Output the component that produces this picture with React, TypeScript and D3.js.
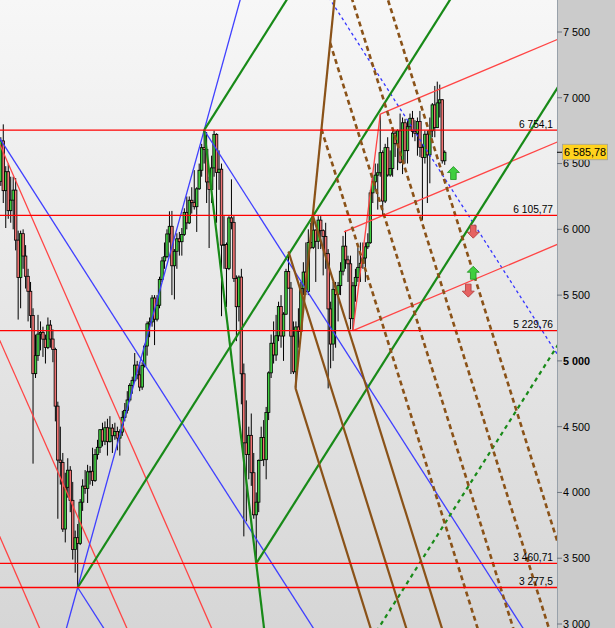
import React from 'react';
import * as d3 from 'd3';

const WIDTH = 615;
const HEIGHT = 628;
const PLOT_RIGHT = 557;

// Monthly candles, Aug 2000 (index 0) .. Jul 2015 (index 179)
const firstOpen = 6365;
const closes = [
  6672, 6294, 6438, 6142, 6222,
  6298, 5918, 5634, 5967, 5797, 5643, 5529, 5345, 4903, 5040, 5204, 5217,
  5165, 5102, 5272, 5166, 5086, 4656, 4246, 4227, 3722, 4039, 4169, 3940,
  3567, 3656, 3613, 3926, 4048, 4031, 4157, 4161, 4091, 4288, 4343, 4477,
  4390, 4492, 4386, 4489, 4431, 4464, 4413, 4459, 4571, 4624, 4703, 4814,
  4852, 4968, 4894, 4801, 4964, 5113, 5282, 5296, 5478, 5317, 5423, 5619,
  5760, 5792, 5965, 6023, 5723, 5833, 5928, 5906, 5961, 6129, 6049, 6221,
  6203, 6172, 6308, 6449, 6621, 6608, 6360, 6303, 6467, 6722, 6433, 6457,
  5880, 5884, 5702, 6087, 6053, 5626, 5412, 5637, 4902, 4377, 4288, 4434,
  4150, 3830, 3926, 4244, 4418, 4249, 4608, 4909, 5134, 5045, 5191, 5413,
  5189, 5355, 5680, 5553, 5188, 4917, 5258, 5225, 5549, 5675, 5528, 5900,
  5863, 5994, 5909, 6070, 5990, 5946, 5815, 5395, 5128, 5544, 5505, 5572,
  5682, 5872, 5768, 5738, 5321, 5571, 5635, 5711, 5742, 5782, 5867, 5898,
  6277, 6361, 6412, 6430, 6583, 6215, 6621, 6413, 6462, 6731, 6651, 6749,
  6510, 6810, 6598, 6780, 6844, 6744, 6730, 6820, 6623, 6546, 6723, 6566,
  6749, 6946, 6773, 6961, 6985, 6521, 6585.78,
];
const highs = [
  6700, 6798, 6480, 6500, 6400,
  6400, 6390, 5990, 5990, 6000, 5880, 5700, 5600, 5400, 5200, 5350, 5300,
  5260, 5200, 5330, 5310, 5240, 5100, 4690, 4500, 4300, 4150, 4260, 4200,
  4080, 3710, 3760, 3950, 4100, 4170, 4210, 4200, 4340, 4330, 4400, 4480,
  4530, 4540, 4560, 4580, 4520, 4530, 4500, 4480, 4620, 4680, 4770, 4830,
  4880, 5060, 5000, 4990, 4990, 5130, 5300, 5330, 5500, 5500, 5500, 5640,
  5790, 5900, 6000, 6137, 6140, 5850, 5970, 5980, 6010, 6160, 6250, 6250,
  6320, 6450, 6320, 6500, 6650, 6754.1, 6740, 6400, 6560, 6750, 6730, 6600,
  6500, 6100, 5900, 6100, 6380, 6100, 5650, 5650, 5700, 4980, 4700, 4500,
  4600, 4300, 4000, 4250, 4500, 4550, 4650, 4920, 5200, 5300, 5350, 5450,
  5500, 5370, 5700, 5830, 5600, 5300, 5300, 5400, 5600, 5750, 5900, 6000,
  6050, 6105.77, 6000, 6100, 6100, 6000, 6050, 5850, 5450, 5600, 5600, 5600,
  5750, 5950, 5990, 5800, 5800, 5600, 5700, 5860, 5900, 5900, 5900, 5970,
  6300, 6400, 6500, 6500, 6875, 6600, 6650, 6700, 6600, 6750, 6750, 6760,
  6880, 6850, 6840, 6830, 6880, 6900, 6830, 6850, 6900, 6650, 6750, 6750,
  6850, 6960, 7090, 7122.74, 7100, 6990, 6600,
];
const lows = [
  6330, 6200, 6010, 6080, 6050,
  6000, 5840, 5314, 5400, 5700, 5550, 5300, 5250, 4219, 4870, 5000, 5080,
  5030, 4980, 5090, 5100, 4990, 4540, 3800, 4060, 3700, 3620, 3960, 3850,
  3490, 3390, 3277.5, 3600, 3860, 3990, 3920, 4060, 4050, 4080, 4250, 4300,
  4350, 4360, 4280, 4380, 4300, 4400, 4320, 4280, 4430, 4540, 4600, 4690,
  4750, 4840, 4860, 4770, 4780, 4950, 5040, 5180, 5260, 5120, 5300, 5400,
  5600, 5700, 5780, 5900, 5500, 5467, 5700, 5800, 5800, 5950, 6000, 6040,
  6120, 6150, 5980, 6300, 6400, 6500, 6200, 5858, 6200, 6400, 6050, 6300,
  5340, 5700, 5410, 5690, 6000, 5600, 5150, 5300, 4670, 3666, 3780, 4100,
  4050, 3800, 3460.71, 3850, 4240, 4200, 4100, 4550, 4870, 4980, 5000, 5150,
  5100, 5000, 5350, 5550, 4900, 4900, 4795, 5100, 5200, 5500, 5500, 5500,
  5850, 5850, 5600, 5850, 5850, 5650, 5700, 4791, 4944, 5000, 5100, 5300,
  5500, 5650, 5700, 5600, 5240, 5229.76, 5450, 5600, 5600, 5700, 5600, 5850,
  5890, 6200, 6300, 6150, 6400, 6100, 6200, 6400, 6400, 6400, 6550, 6450,
  6500, 6420, 6500, 6500, 6750, 6700, 6670, 6560, 6550, 6070, 6500, 6200,
  6350, 6700, 6700, 6770, 6850, 6500, 6490,
];

// Horizontal levels
const levelValues = [6754.1, 6105.77, 5229.76, 3460.71, 3277.5];
const levelLabels = ['6 754,1', '6 105,77', '5 229,76', '3 460,71', '3 277,5'];

// Price axis
const axisTicks = [3000, 3500, 4000, 4500, 5000, 5500, 6000, 6500, 7000, 7500];
const axisLabels = ['3 000', '3 500', '4 000', '4 500', '5 000', '5 500', '6 000', '6 500', '7 000', '7 500'];
const boldTick = 5000;
const lastPrice = 6585.78;
const lastPriceLabel = '6 585,78';

// Andrews pitchforks: anchor points [month index, price]
type Pt = [number, number];
const blueFork: Pt[] = [[-8, 6915], [31, 3277.5], [82, 6754.1]];
const greenFork: Pt[] = [[31, 3277.5], [82, 6754.1], [103, 3460.71]];
const brownFork: Pt[] = [[116, 5830], [118.8, 4795], [125.8, 6105.77]];
const redFork: Pt[] = [[138.4, 5980], [142, 5229.76], [153, 6875]];
const blueWarnings = [1];
const greenWarnings = [1];
const brownWarnings = [1, 2, 3, 4];

// Parallel red lines on the left: two points each [index, price]
const redParallels: Pt[][] = [
  [[-0.32, 6641], [58.83, 4095]],
  [[-0.32, 5151], [44.03, 3259]],
  [[-0.32, 3661], [8.95, 3259]],
];

// Signal arrows
const signalIndex = [182.5, 190.5, 190.5, 188.5];
const signalPrice = [6428, 5982, 5670, 5534];
const signalDir = ['up', 'down', 'up', 'down'];

const xScale = d3.scaleLinear().domain([0, 179]).range([0.8, 0.8 + 2.48 * 179]);
const yScale = d3.scaleLinear().domain([3000, 7500]).range([624, 32]);

type P = { x: number; y: number };
const px = (p: Pt): P => ({ x: xScale(p[0]), y: yScale(p[1]) });
const norm = (v: P): P => {
  const l = Math.hypot(v.x, v.y);
  return { x: v.x / l, y: v.y / l };
};
const far = 3000;
const ray = (s: P, d: P) => `M${s.x},${s.y}L${s.x + d.x * far},${s.y + d.y * far}`;
const seg = (a: P, b: P) => `M${a.x},${a.y}L${b.x},${b.y}`;

function forkPaths(anchors: Pt[], warnings: number[], extendPastP2: boolean, extendPastP1: boolean) {
  const [p0, p1, p2] = anchors.map(px);
  const m = { x: (p1.x + p2.x) / 2, y: (p1.y + p2.y) / 2 };
  const d = norm({ x: m.x - p0.x, y: m.y - p0.y });
  const h = norm({ x: p2.x - p1.x, y: p2.y - p1.y });
  const solid: string[] = [ray(p0, d), ray(p1, d), ray(p2, d), seg(p1, p2)];
  if (extendPastP2) solid.push(ray(p2, h));
  if (extendPastP1) solid.push(ray(p1, { x: -h.x, y: -h.y }));
  const dashed = warnings.map((k) => {
    const s = { x: p2.x + k * (p2.x - m.x), y: p2.y + k * (p2.y - m.y) };
    return ray(s, d);
  });
  return { solid, dashed };
}

const blue = forkPaths(blueFork, blueWarnings, true, true);
const green = forkPaths(greenFork, greenWarnings, true, false);
const brown = forkPaths(brownFork, brownWarnings, true, false);
const red = forkPaths(redFork, [], false, false);

const redLines = redParallels.map(([a, b]) => {
  const pa = px(a);
  const pb = px(b);
  const d = norm({ x: pb.x - pa.x, y: pb.y - pa.y });
  return `M${pa.x - d.x * far},${pa.y - d.y * far}L${pa.x + d.x * far},${pa.y + d.y * far}`;
});

function arrowPath(cx: number, cy: number, up: boolean) {
  const s = up ? 1 : -1;
  const pts = [
    [0, -6.5], [6, -0.5], [2.8, -0.5], [2.8, 6.5], [-2.8, 6.5], [-2.8, -0.5], [-6, -0.5],
  ];
  return 'M' + pts.map(([x, y]) => `${cx + x},${cy + s * y}`).join('L') + 'Z';
}

const FONT = '"Liberation Sans", Arial, sans-serif';

export default function App() {
  const candles = closes.map((c, i) => {
    const o = i === 0 ? firstOpen : closes[i - 1];
    return { i, o, c, h: highs[i], l: lows[i] };
  });
  const bw = 2.5;
  return (
    <svg
      width={WIDTH}
      height={HEIGHT}
      style={{ position: 'absolute', left: 0, top: 0, display: 'block' }}
    >
      <defs>
        <linearGradient id="bg" x1="0" y1="0" x2="0" y2="1">
          <stop offset="0" stopColor="#f7f7f7" />
          <stop offset="1" stopColor="#d6d6d6" />
        </linearGradient>
        <clipPath id="plot">
          <rect x={0} y={0} width={PLOT_RIGHT} height={HEIGHT} />
        </clipPath>
      </defs>
      <rect x={0} y={0} width={PLOT_RIGHT} height={HEIGHT} fill="url(#bg)" />

      <g clipPath="url(#plot)">
        {candles.map((k) => {
          const x = xScale(k.i);
          const top = yScale(Math.max(k.o, k.c));
          const bot = yScale(Math.min(k.o, k.c));
          return (
            <g key={k.i}>
              <line x1={x} x2={x} y1={yScale(k.h)} y2={yScale(k.l)} stroke="#000" strokeWidth={1} />
              <rect
                x={x - bw / 2}
                y={top}
                width={bw}
                height={Math.max(bot - top, 0.8)}
                fill={k.c >= k.o ? '#40cc40' : '#f07474'}
                stroke="#000"
                strokeWidth={0.8}
              />
            </g>
          );
        })}

        {redLines.map((d, j) => (
          <path key={'rl' + j} d={d} stroke="#ff4444" strokeWidth={1.3} fill="none" />
        ))}
        {blue.solid.map((d, j) => (
          <path key={'bs' + j} d={d} stroke="#3f3fff" strokeWidth={1.3} fill="none" />
        ))}
        {blue.dashed.map((d, j) => (
          <path key={'bd' + j} d={d} stroke="#3535ff" strokeWidth={1.3} strokeDasharray="3,3" fill="none" />
        ))}
        {red.solid.map((d, j) => (
          <path key={'rs' + j} d={d} stroke="#ff4444" strokeWidth={1.3} fill="none" />
        ))}
        {green.solid.map((d, j) => (
          <path key={'gs' + j} d={d} stroke="#188a18" strokeWidth={2.2} fill="none" />
        ))}
        {green.dashed.map((d, j) => (
          <path key={'gd' + j} d={d} stroke="#188a18" strokeWidth={2.2} strokeDasharray="4,4" fill="none" />
        ))}
        {brown.solid.map((d, j) => (
          <path key={'ws' + j} d={d} stroke="#8a5218" strokeWidth={2.2} fill="none" />
        ))}
        {brown.dashed.map((d, j) => (
          <path key={'wd' + j} d={d} stroke="#8a5218" strokeWidth={2.6} strokeDasharray="5,3.5" fill="none" />
        ))}

        {levelValues.map((v, j) => (
          <g key={'lv' + j}>
            <line x1={0} x2={PLOT_RIGHT} y1={yScale(v)} y2={yScale(v)} stroke="#ff0000" strokeWidth={1.3} />
            <text
              x={553}
              y={yScale(v) - 2.5}
              textAnchor="end"
              fontFamily={FONT}
              fontSize={10.2}
              fill="#000"
            >
              {levelLabels[j]}
            </text>
          </g>
        ))}

        {signalIndex.map((si, j) => {
          const up = signalDir[j] === 'up';
          return (
            <path
              key={'ar' + j}
              d={arrowPath(xScale(si), yScale(signalPrice[j]), up)}
              fill={up ? '#3fcf3f' : '#e66262'}
              stroke={up ? '#1f8f1f' : '#b03a3a'}
              strokeWidth={0.8}
            />
          );
        })}
      </g>

      <rect x={PLOT_RIGHT} y={0} width={WIDTH - PLOT_RIGHT} height={HEIGHT} fill="#cbcbcb" />
      <line x1={PLOT_RIGHT + 0.5} x2={PLOT_RIGHT + 0.5} y1={0} y2={HEIGHT} stroke="#98a1aa" strokeWidth={1} />
      {axisTicks.map((t, j) => (
        <g key={'t' + j}>
          <line x1={PLOT_RIGHT} x2={PLOT_RIGHT + 5} y1={yScale(t)} y2={yScale(t)} stroke="#6e7680" strokeWidth={1} />
          <text
            x={PLOT_RIGHT + 6}
            y={yScale(t)}
            dy="0.36em"
            fontFamily={FONT}
            fontSize={10.8}
            fontWeight={t === boldTick ? 'bold' : 'normal'}
            fill="#000"
          >
            {axisLabels[j]}
          </text>
        </g>
      ))}
      <line
        x1={PLOT_RIGHT}
        x2={PLOT_RIGHT + 5}
        y1={yScale(lastPrice)}
        y2={yScale(lastPrice)}
        stroke="#000"
        strokeWidth={1}
      />
      <rect
        x={PLOT_RIGHT + 5.5}
        y={yScale(lastPrice) - 8}
        width={45}
        height={15.5}
        fill="#ffd21e"
        stroke="#a0a0a0"
        strokeWidth={0.8}
      />
      <text
        x={PLOT_RIGHT + 7}
        y={yScale(lastPrice)}
        dy="0.36em"
        fontFamily={FONT}
        fontSize={10.8}
        fill="#000"
      >
        {lastPriceLabel}
      </text>
    </svg>
  );
}
